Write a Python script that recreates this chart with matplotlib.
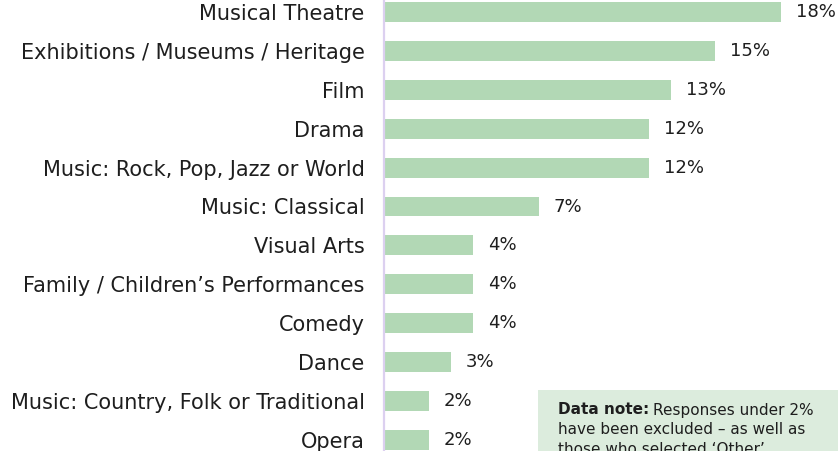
import matplotlib
matplotlib.use("Agg")
import matplotlib.pyplot as plt
from matplotlib.patches import Rectangle

categories = ["Musical Theatre", "Exhibitions / Museums / Heritage", "Film", "Drama",
              "Music: Rock, Pop, Jazz or World", "Music: Classical", "Visual Arts",
              "Family / Children\u2019s Performances", "Comedy", "Dance",
              "Music: Country, Folk or Traditional", "Opera"]
values = [18, 15, 13, 12, 12, 7, 4, 4, 4, 3, 2, 2]
value_labels = ["18%", "15%", "13%", "12%", "12%", "7%", "4%", "4%", "4%", "3%", "2%", "2%"]

W, H = 838, 451
fig = plt.figure(figsize=(W / 100, H / 100), dpi=100)
ax = fig.add_axes([384 / W, 0, 1 - 384 / W, 1])

row = 38.9
ypos = list(range(len(categories)))
ax.barh(ypos, values, height=0.51, color="#b2d8b5", left=0.05)
ax.set_xlim(0, (W - 384) / 22.0)
ax.set_ylim((H - 12) / row, -12 / row)

ax.set_yticks(ypos)
ax.set_yticklabels(categories, fontsize=15, color="#1e1e1e")
ax.tick_params(axis="y", length=0, pad=14)
ax.set_xticks([])
for s in ["top", "right", "bottom"]:
    ax.spines[s].set_visible(False)
ax.spines["left"].set_color("#dcd0f0")
ax.spines["left"].set_linewidth(1.6)

for y, v, lab in zip(ypos, values, value_labels):
    ax.text(v + 0.72, y, lab, va="center", ha="left", fontsize=13, color="#1e1e1e")

# data note box
fig.patches.append(Rectangle((538 / W, 0), 1, (H - 390) / H, transform=fig.transFigure,
                             facecolor="#dcecdd", edgecolor="none", zorder=5))
x0 = 558 / W
y1 = 1 - 410 / H
t = fig.text(x0, y1, "Data note:", fontsize=11, fontweight="bold", color="#1e1e1e",
             va="center", ha="left", zorder=6)
fig.canvas.draw()
bb = t.get_window_extent()
fig.text(bb.x1 / W + 4 / W, y1, "Responses under 2%", fontsize=11, color="#1e1e1e",
         va="center", ha="left", zorder=6)
fig.text(x0, 1 - 430 / H, "have been excluded \u2013 as well as", fontsize=11,
         color="#1e1e1e", va="center", ha="left", zorder=6)
fig.text(x0, 1 - 449 / H, "those who selected \u2018Other\u2019.", fontsize=11,
         color="#1e1e1e", va="center", ha="left", zorder=6)

fig.savefig("out.png", dpi=100)
